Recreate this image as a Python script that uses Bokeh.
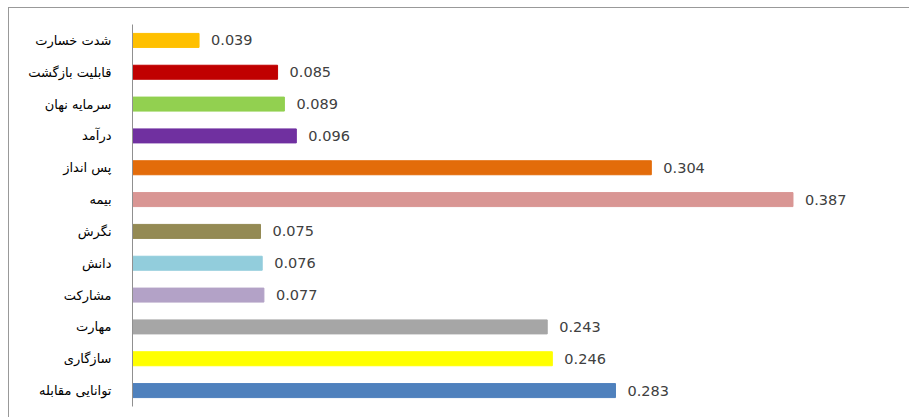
from bokeh.plotting import figure
from bokeh.models import FactorRange, Range1d, ColumnDataSource
from bokeh.core.properties import value
from bokeh.embed import file_html
from bokeh.resources import INLINE

# data, top to bottom as in the chart
categories = ["شدت خسارت", "قابلیت بازگشت", "سرمایه نهان", "درآمد", "پس انداز", "بیمه",
              "نگرش", "دانش", "مشارکت", "مهارت", "سازگاری", "توانایی مقابله"]
values = [0.039, 0.085, 0.089, 0.096, 0.304, 0.387, 0.075, 0.076, 0.077, 0.243, 0.246, 0.283]
colors = ["#FFC000", "#C00000", "#92D050", "#7030A0", "#E36C0A", "#D99694",
          "#948A54", "#92CDDC", "#B3A2C7", "#A6A6A6", "#FFFF00", "#4F81BD"]
value_labels = ["%.3f" % v for v in values]

src = ColumnDataSource(dict(cat=categories, val=values, col=colors, lab=value_labels))

factors = list(reversed(categories))
p = figure(width=901, height=410, output_backend="svg", toolbar_location=None,
           y_range=FactorRange(*factors, range_padding=0),
           x_range=Range1d(0, 0.45),
           min_border_left=123, min_border_right=10, min_border_top=16, min_border_bottom=12)

p.hbar(y="cat", right="val", left=0, height=0.44, color="col", source=src)
p.text(x="val", y="cat", text="lab", source=src, x_offset=12,
       text_baseline="middle", text_align="left",
       text_font=value("DejaVu Sans"), text_font_size="14.5px", text_color="#404040")

p.xaxis.visible = False
p.xgrid.visible = False
p.ygrid.visible = False
p.outline_line_color = None
p.yaxis.axis_line_color = "#909090"
p.yaxis.major_tick_line_color = None
p.yaxis.minor_tick_line_color = None
p.yaxis.major_label_standoff = 15
p.yaxis.major_label_text_font = "DejaVu Sans"
p.yaxis.major_label_text_font_size = "13px"
p.yaxis.major_label_text_color = "#000000"
p.styles = {"margin-left": "8px", "margin-top": "7px",
            "border-top": "1px solid #999999", "border-left": "1px solid #999999"}

open("out.html", "w").write(file_html(p, INLINE))
